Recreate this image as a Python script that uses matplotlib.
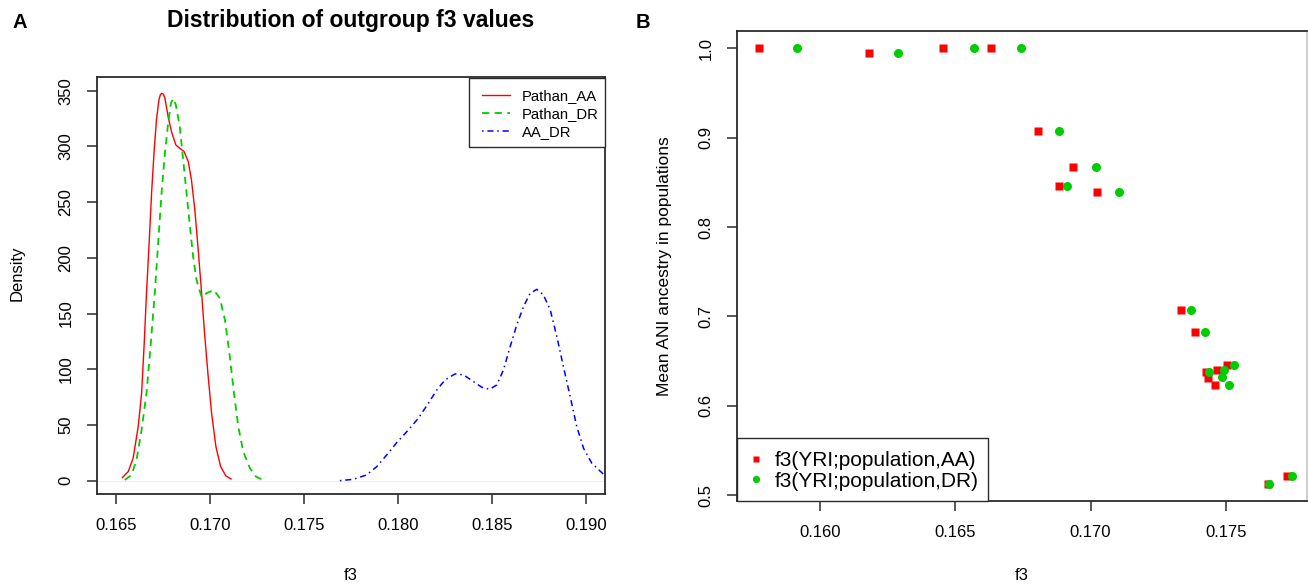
import matplotlib
matplotlib.use("Agg")
import matplotlib.pyplot as plt
from matplotlib.patches import Rectangle
from matplotlib.ticker import FormatStrFormatter

plt.rcParams['font.family'] = ['Liberation Sans', 'DejaVu Sans']

# panel A: density curves (f3, density)
aa_x = [0.16535, 0.16566, 0.16592, 0.16619, 0.16637, 0.16651, 0.16663, 0.16677,
        0.16690, 0.16704, 0.16716, 0.16729, 0.16737, 0.16745, 0.16753, 0.16761,
        0.16778, 0.16796, 0.16819, 0.16840, 0.16863, 0.16885, 0.16902, 0.16920,
        0.16938, 0.16956, 0.16973, 0.16991, 0.17009, 0.17032, 0.17057, 0.17085, 0.17112]
aa_y = [2.7, 8.1, 20.1, 48.5, 78.4, 123.3, 168.2, 213, 257.9, 296.8, 323.7, 341.6,
        346.5, 347.6, 346.8, 343.1, 326.7, 313.2, 301.3, 298.3, 295.3, 286.3, 269.9,
        242.9, 207, 168.2, 129.3, 93.4, 60.5, 30.5, 12.6, 4.2, 1.5]

dr_x = [0.16548, 0.16583, 0.16610, 0.16637, 0.16663, 0.16686, 0.16707, 0.16725,
        0.16743, 0.16761, 0.16778, 0.16793, 0.16805, 0.16819, 0.16840, 0.16858,
        0.16876, 0.16894, 0.16911, 0.16929, 0.16956, 0.16982, 0.17021, 0.17053,
        0.17080, 0.17106, 0.17128, 0.17151, 0.17177, 0.17213, 0.17245, 0.17275]
dr_y = [0.6, 5.1, 18.6, 45.5, 78.4, 123.3, 168.2, 213, 257.9, 293.8, 320.7, 338.7,
        343.1, 337.2, 317.7, 287.8, 257.9, 228, 201, 180.1, 164.6, 168.2, 171.1,
        163.7, 144.2, 111.3, 78.4, 48.5, 26.1, 11.1, 3.6, 1.2]

aadr_x = [0.17691, 0.17762, 0.17833, 0.17887, 0.17940, 0.17993, 0.18055, 0.18108,
          0.18161, 0.18206, 0.18250, 0.18303, 0.18348, 0.18401, 0.18445, 0.18486,
          0.18525, 0.18560, 0.18596, 0.18631, 0.18667, 0.18702, 0.18738, 0.18773,
          0.18809, 0.18844, 0.18879, 0.18915, 0.18950, 0.18986, 0.19030, 0.19096]
aadr_y = [0, 1.2, 5.1, 12.6, 23.1, 34.1, 45.5, 56, 69.4, 81.4, 90.4, 95.8, 94.9,
          88.9, 83.8, 82, 85.9, 99.3, 120.3, 139.7, 156.2, 168.1, 171.7, 166.6,
          153.2, 129.3, 102.3, 75.4, 48.5, 29, 15.6, 5.1]

# panel B: f3 vs mean ANI ancestry
pop_anc = [1.0, 0.9947, 1.0, 1.0, 0.9076, 0.8676, 0.846, 0.8392, 0.7066, 0.6823,
           0.6453, 0.6397, 0.6378, 0.6315, 0.6232, 0.5122, 0.5212]
f3_aa = [0.15775, 0.16180, 0.16456, 0.16632, 0.16804, 0.16934, 0.16882, 0.17024,
         0.17334, 0.17386, 0.17504, 0.17467, 0.17425, 0.17435, 0.17460, 0.17656, 0.17727]
dr_anc = [1.0, 0.9947, 1.0, 1.0, 0.9073, 0.8676, 0.846, 0.8392, 0.7066, 0.6823,
          0.6453, 0.6397, 0.6378, 0.6322, 0.6232, 0.5122, 0.5212]
f3_dr = [0.15914, 0.16287, 0.16568, 0.16742, 0.16884, 0.17019, 0.16914, 0.17105,
         0.17371, 0.17423, 0.17531, 0.17494, 0.17439, 0.17486, 0.17510, 0.17660, 0.17743]

left_ticks = [0.165, 0.170, 0.175, 0.180, 0.185, 0.190]
right_ticks = [0.160, 0.165, 0.170, 0.175]

W, H = 1308, 586
fig = plt.figure(figsize=(W / 100, H / 100), dpi=100)


def box(px0, py0, px1, py1):
    return [px0 / W, 1 - py1 / H, (px1 - px0) / W, (py1 - py0) / H]


def style(ax):
    for s in ax.spines.values():
        s.set_color('#2b2b2b')
        s.set_linewidth(1.3)
    ax.tick_params(direction='out', length=7, width=1.1, color='#2b2b2b',
                   labelsize=12, pad=10)
    for lab in ax.get_yticklabels():
        lab.set_rotation(90)
        lab.set_va('center')


def legend_frame(ax, px0, py0, px1, py1):
    ax.add_patch(Rectangle((px0 / W, 1 - py1 / H), (px1 - px0) / W, (py1 - py0) / H,
                           transform=fig.transFigure, facecolor='white',
                           edgecolor='#2b2b2b', lw=1.0, zorder=4, clip_on=False))


# ---- panel A
ax1 = fig.add_axes(box(97, 77.3, 605, 494))
ax1.axhline(0, color='#eeeeee', lw=0.8, zorder=0)
ax1.plot(aa_x, aa_y, color='#ff0000', lw=1.0, label='Pathan_AA')
ax1.plot(dr_x, dr_y, color='#00cd00', lw=1.3, dashes=(4, 3), label='Pathan_DR')
ax1.plot(aadr_x, aadr_y, color='#0000ff', lw=1.1, dashes=(1, 2.5, 4, 2.5), label='AA_DR')
ax1.set_xlim(0.164, 0.191)
ax1.set_ylim(-12, 362)
ax1.set_xticks(left_ticks)
ax1.xaxis.set_major_formatter(FormatStrFormatter('%.3f'))
ax1.set_yticks(range(0, 351, 50))
style(ax1)
legend_frame(ax1, 469, 78, 605, 147)
leg1 = ax1.legend(loc='upper left', bbox_to_anchor=(482 / W, 1 - 89 / H),
                  bbox_transform=fig.transFigure, borderaxespad=0, borderpad=0,
                  frameon=False, fontsize=10.7, handlelength=1.86,
                  handletextpad=0.8, labelspacing=0.26)
leg1.set_zorder(5)

# ---- panel B
ax2 = fig.add_axes(box(737.3, 31, 1306.7, 501))
ax2.plot(f3_aa, pop_anc, 's', color='#ff0000', ms=6, mec='none',
         label='f3(YRI;population,AA)')
ax2.plot(f3_dr, dr_anc, 'o', color='#00cd00', ms=6.5, mec='none',
         label='f3(YRI;population,DR)')
ax2.set_xlim(0.15694, 0.17799)
ax2.set_ylim(0.4933, 1.0195)
ax2.set_xticks(right_ticks)
ax2.xaxis.set_major_formatter(FormatStrFormatter('%.3f'))
ax2.set_yticks([0.5, 0.6, 0.7, 0.8, 0.9, 1.0])
ax2.yaxis.set_major_formatter(FormatStrFormatter('%.1f'))
style(ax2)
ax2.spines['right'].set_color('#cccccc')
legend_frame(ax2, 737.3, 437.7, 988, 501)
leg2 = ax2.legend(loc='upper left', bbox_to_anchor=(748 / W, 1 - 451.5 / H),
                  bbox_transform=fig.transFigure, borderaxespad=0, borderpad=0,
                  frameon=False, fontsize=15, handlelength=0.8,
                  handletextpad=0.5, labelspacing=0.06, markerscale=0.8)
leg2.set_zorder(5)

# ---- labels
fig.text(351 / W, 1 - 20 / H, 'Distribution of outgroup f3 values', ha='center',
         va='center', fontsize=16.5, fontweight='bold')
fig.text(20 / W, 1 - 22 / H, 'A', ha='center', va='center', fontsize=14.5, fontweight='bold')
fig.text(643 / W, 1 - 22 / H, 'B', ha='center', va='center', fontsize=14.5, fontweight='bold')
fig.text(16.7 / W, 1 - 273 / H, 'Density', rotation=90, ha='center', va='center', fontsize=12)
fig.text(351 / W, 1 - 575 / H, 'f3', ha='center', va='center', fontsize=12)
fig.text(665 / W, 1 - 266 / H, 'Mean ANI ancestry in populations', rotation=90,
         ha='center', va='center', fontsize=12.5)
fig.text(1022 / W, 1 - 575 / H, 'f3', ha='center', va='center', fontsize=12)

fig.savefig('out.png', dpi=100)
